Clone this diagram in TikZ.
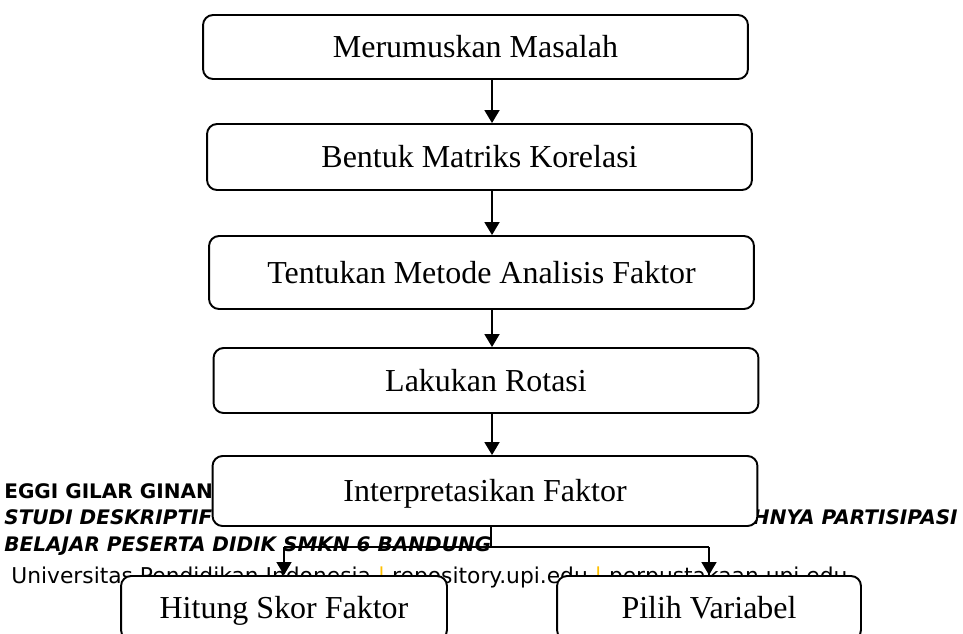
\documentclass[tikz,border=0pt]{standalone}
\usepackage{fontspec}
\setmainfont{Liberation Serif}
\newfontfamily\footerfont{DejaVu Sans}
\usetikzlibrary{arrows.meta}
\definecolor{barkuning}{RGB}{255,192,0}
\tikzset{
  >={Triangle[length=0.26cm,width=0.3cm]},
  stepbox/.style={draw,fill=white,rounded corners=0.2cm,line width=1.1pt,
    minimum width=10.9cm,minimum height=#1,inner sep=0pt,
    text height=12pt,text depth=0pt,font=\fontsize{18.2}{22}\selectfont},
  stepbox/.default=1.3cm,
  flow/.style={->,line width=1.1pt},
  link/.style={line width=0.6pt},
  footer/.style={inner sep=0pt,anchor=base west,
    font=\footerfont\fontsize{11.4}{13.7}\selectfont#1},
  footer/.default=\bfseries,
}
\begin{document}
\begin{tikzpicture}[x=0.02cm,y=-0.02cm]
  \useasboundingbox (0,0) rectangle (963,633);
  \clip (0,0) rectangle (963,633);
  % page footer behind the chart
  \node[footer] (nama) at (4,498) {EGGI GILAR GINAN};
  \node[footer=\bfseries\itshape] (judul) at (4,524) {STUDI DESKRIPTIF};
  \node[footer=\bfseries\itshape,anchor=base east] (judulb) at (958,524) {HNYA PARTISIPASI};
  \node[footer=\bfseries\itshape] (judulc) at (4,551) {BELAJAR PESERTA DIDIK SMKN 6 BANDUNG};
  \node[footer,font=\footerfont\fontsize{12.4}{14.5}\selectfont] (univ) at (11,583)
    {Universitas Pendidikan Indonesia {\color{barkuning}|} repository.upi.edu {\color{barkuning}|} perpustakaan.upi.edu};
  % steps
  \node[stepbox=1.28cm] (rumus) at (475.5,47) {Merumuskan Masalah};
  \node[stepbox=1.32cm] (matriks) at (479.5,157) {Bentuk Matriks Korelasi};
  \node[stepbox=1.46cm] (metode) at (481.5,272.5) {Tentukan Metode Analisis Faktor};
  \node[stepbox=1.3cm] (rotasi) at (486,380.5) {Lakukan Rotasi};
  \node[stepbox=1.4cm] (interp) at (485,491) {Interpretasikan Faktor};
  \node[stepbox=1.28cm,minimum width=6.52cm] (skor) at (284,608) {Hitung Skor Faktor};
  \node[stepbox=1.28cm,minimum width=6.08cm] (pilih) at (709,608) {Pilih Variabel};
  \coordinate (ax) at (492,0);
  \draw[flow] (rumus.south -| ax) -- (matriks.north -| ax);
  \draw[flow] (matriks.south -| ax) -- (metode.north -| ax);
  \draw[flow] (metode.south -| ax) -- (rotasi.north -| ax);
  \draw[flow] (rotasi.south -| ax) -- (interp.north -| ax);
  % split to the last two steps
  \coordinate (cabang) at (491,547);
  \draw[link] (interp.south -| cabang) -- (cabang);
  \draw[link] (skor.north |- cabang) -- (pilih.north |- cabang);
  \draw[flow,line width=0.9pt] (skor.north |- cabang) -- (skor.north);
  \draw[flow,line width=0.9pt] (pilih.north |- cabang) -- (pilih.north);
\end{tikzpicture}
\end{document}
